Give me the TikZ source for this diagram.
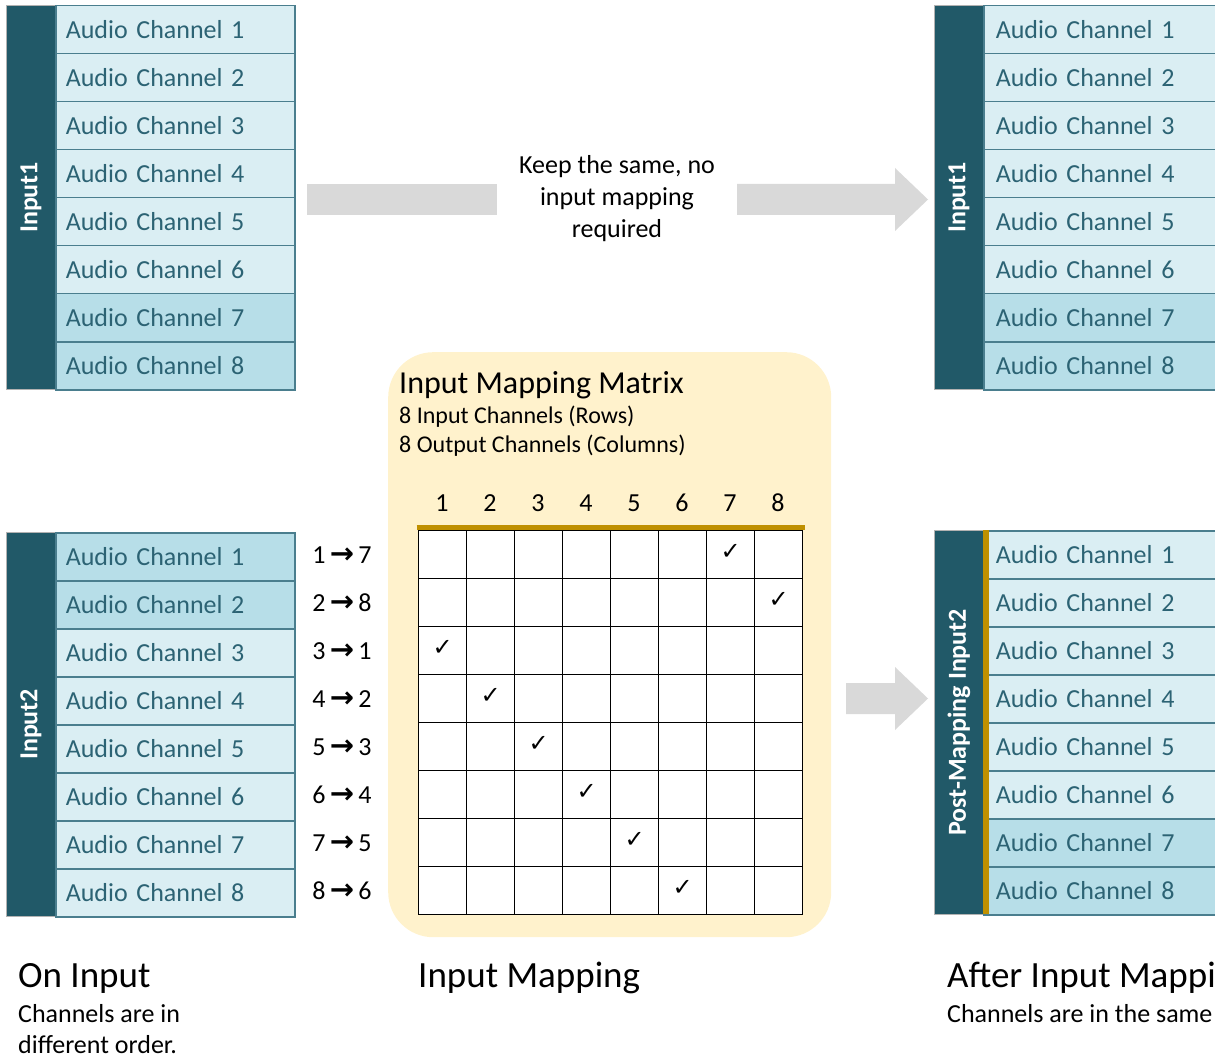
\documentclass[tikz,border=0pt]{standalone}
\usepackage{fontspec}
\setmainfont{Carlito}
\newfontfamily\symfont{DejaVu Sans}
\definecolor{darkteal}{HTML}{215968}
\definecolor{cellA}{HTML}{DAEEF3}
\definecolor{cellB}{HTML}{B7DEE8}
\definecolor{cellline}{HTML}{4A7E8E}
\definecolor{celltext}{HTML}{2C6374}
\definecolor{gold}{HTML}{BF9000}
\definecolor{matbg}{HTML}{FFF2CC}
\definecolor{arrowgrey}{HTML}{D9D9D9}
\begin{document}
\begin{tikzpicture}[x=1pt,y=-1pt,
  cellL/.style={draw=cellline, line width=1.5pt, anchor=north west, minimum height=48pt,
    inner xsep=10pt, inner ysep=0pt, text width=219pt, align=left, text=celltext,
    font=\fontsize{26}{30}\selectfont},
  cellR/.style={cellL, text width=237pt, inner xsep=12pt},
  barbox/.style={fill=darkteal, draw=gray!60, line width=0.8pt, anchor=north west,
    minimum width=49pt, minimum height=384pt, inner sep=0pt},
  barlabel/.style={rotate=90, text=white, font=\bfseries\fontsize{26}{30}\selectfont, inner sep=0pt},
  mcell/.style={draw=black, line width=1.3pt, fill=white, anchor=north west,
    minimum width=48pt, minimum height=48pt, inner sep=0pt},
  hdr/.style={font=\fontsize{26}{30}\selectfont, inner sep=0pt},
  chk/.style={font=\symfont\fontsize{24}{28}\selectfont, inner sep=0pt},
  maplab/.style={font=\fontsize{26}{30}\selectfont, inner sep=0pt},
  greyarrow/.style={fill=arrowgrey, draw=none},
  plain/.style={inner sep=0pt, anchor=base west}
]
\useasboundingbox (0,0) rectangle (1215,1059);
\clip (0,0) rectangle (1215,1059);

% ---------- Input1 block (top left)
\node[barbox] (in1bar) at (6,5) {};
\foreach \i/\f in {1/cellA,2/cellA,3/cellA,4/cellA,5/cellA,6/cellA,7/cellB,8/cellB}
  \node[cellL, fill=\f] (in1c\i) at (55,{5+48*(\i-1)}) {Audio Channel \i};
\node[barlabel] (in1lab) at (in1bar.center) {Input1};

% ---------- Output Input1 block (top right)
\node[barbox] (out1bar) at (934,5) {};
\foreach \i/\f in {1/cellA,2/cellA,3/cellA,4/cellA,5/cellA,6/cellA,7/cellB,8/cellB}
  \node[cellR, fill=\f] (out1c\i) at (983,{5+48*(\i-1)}) {Audio Channel \i};
\node[barlabel] (out1lab) at (out1bar.center) {Input1};

% ---------- top grey arrow
\coordinate (ta1) at (307,184);
\fill[greyarrow] (ta1) rectangle (497,215);
\fill[greyarrow] (737,184) -- (895,184) -- (895,168) -- (928,199.5) -- (895,231)
  -- (895,215) -- (737,215) -- cycle;
\node[align=center, font=\fontsize{26}{32}\selectfont, inner sep=0pt] (keep) at (617,199)
  {Keep the same, no\\input mapping\\required};

% ---------- Input2 block (bottom left)
\node[barbox] (in2bar) at (6,532) {};
\foreach \i/\f in {1/cellB,2/cellB,3/cellA,4/cellA,5/cellA,6/cellA,7/cellA,8/cellA}
  \node[cellL, fill=\f] (in2c\i) at (55,{532+48*(\i-1)}) {Audio Channel \i};
\node[barlabel] (in2lab) at (in2bar.center) {Input2};

% ---------- mapping matrix
\node[fill=matbg, rounded corners=45pt, anchor=north west, minimum width=443pt,
  minimum height=585pt, inner sep=0pt] (mbg) at (388,352) {};
\node[plain, font=\fontsize{32}{36}\selectfont] (mtitle) at (399,393) {Input Mapping Matrix};
\node[plain, font=\fontsize{24}{28}\selectfont] (msub1) at (399,423) {8 Input Channels (Rows)};
\node[plain, font=\fontsize{24}{28}\selectfont] (msub2) at (399,452) {8 Output Channels (Columns)};
\foreach \c in {1,...,8}
  \node[hdr] (h\c) at ({442+48*(\c-1)},503) {\c};
\foreach \r in {1,...,8}
  \foreach \c in {1,...,8}
    \node[mcell] (m-\r-\c) at ({418+48*(\c-1)},{530+48*(\r-1)}) {};
\draw[gold, line width=5pt] ([xshift=-1.5pt,yshift=2.5pt]m-1-1.north west) -- ([xshift=1.5pt,yshift=2.5pt]m-1-8.north east);
\foreach \r/\c in {1/7,2/8,3/1,4/2,5/3,6/4,7/5,8/6}{
  \node[chk] (ck\r) at ([yshift=3pt]m-\r-\c.center) {✓};
  \node[maplab] (map\r) at (342,{555+48*(\r-1)}) {\r\,{\symfont\bfseries\fontsize{29}{30}\selectfont →}\,\c};
}

% ---------- bottom grey arrow
\fill[greyarrow] (846,683) -- (895,683) -- (895,667) -- (928,698.5) -- (895,730)
  -- (895,714) -- (846,714) -- cycle;

% ---------- Post-mapping block (bottom right)
\node[barbox] (pmbar) at (934,530) {};
\foreach \i/\f in {1/cellA,2/cellA,3/cellA,4/cellA,5/cellA,6/cellA,7/cellB,8/cellB}
  \node[cellR, fill=\f] (pmc\i) at (983,{530+48*(\i-1)}) {Audio Channel \i};
\fill[gold] (983,530) rectangle (989,914);
\node[barlabel] (pmlab) at (pmbar.center) {Post-Mapping Input2};

% ---------- bottom captions
\node[plain, font=\fontsize{37}{40}\selectfont] (cap1) at (18,987) {On Input};
\node[plain, font=\fontsize{26}{30}\selectfont] (cap1a) at (18,1022) {Channels are in};
\node[plain, font=\fontsize{26}{30}\selectfont] (cap1b) at (18,1053) {different order.};
\node[plain, font=\fontsize{37}{40}\selectfont] (cap2) at (418,987) {Input Mapping};
\node[plain, font=\fontsize{37}{40}\selectfont] (cap3) at (947,987) {After Input Mapping};
\node[plain, font=\fontsize{26}{30}\selectfont] (cap3a) at (947,1022) {Channels are in the same order.};
\end{tikzpicture}
\end{document}
